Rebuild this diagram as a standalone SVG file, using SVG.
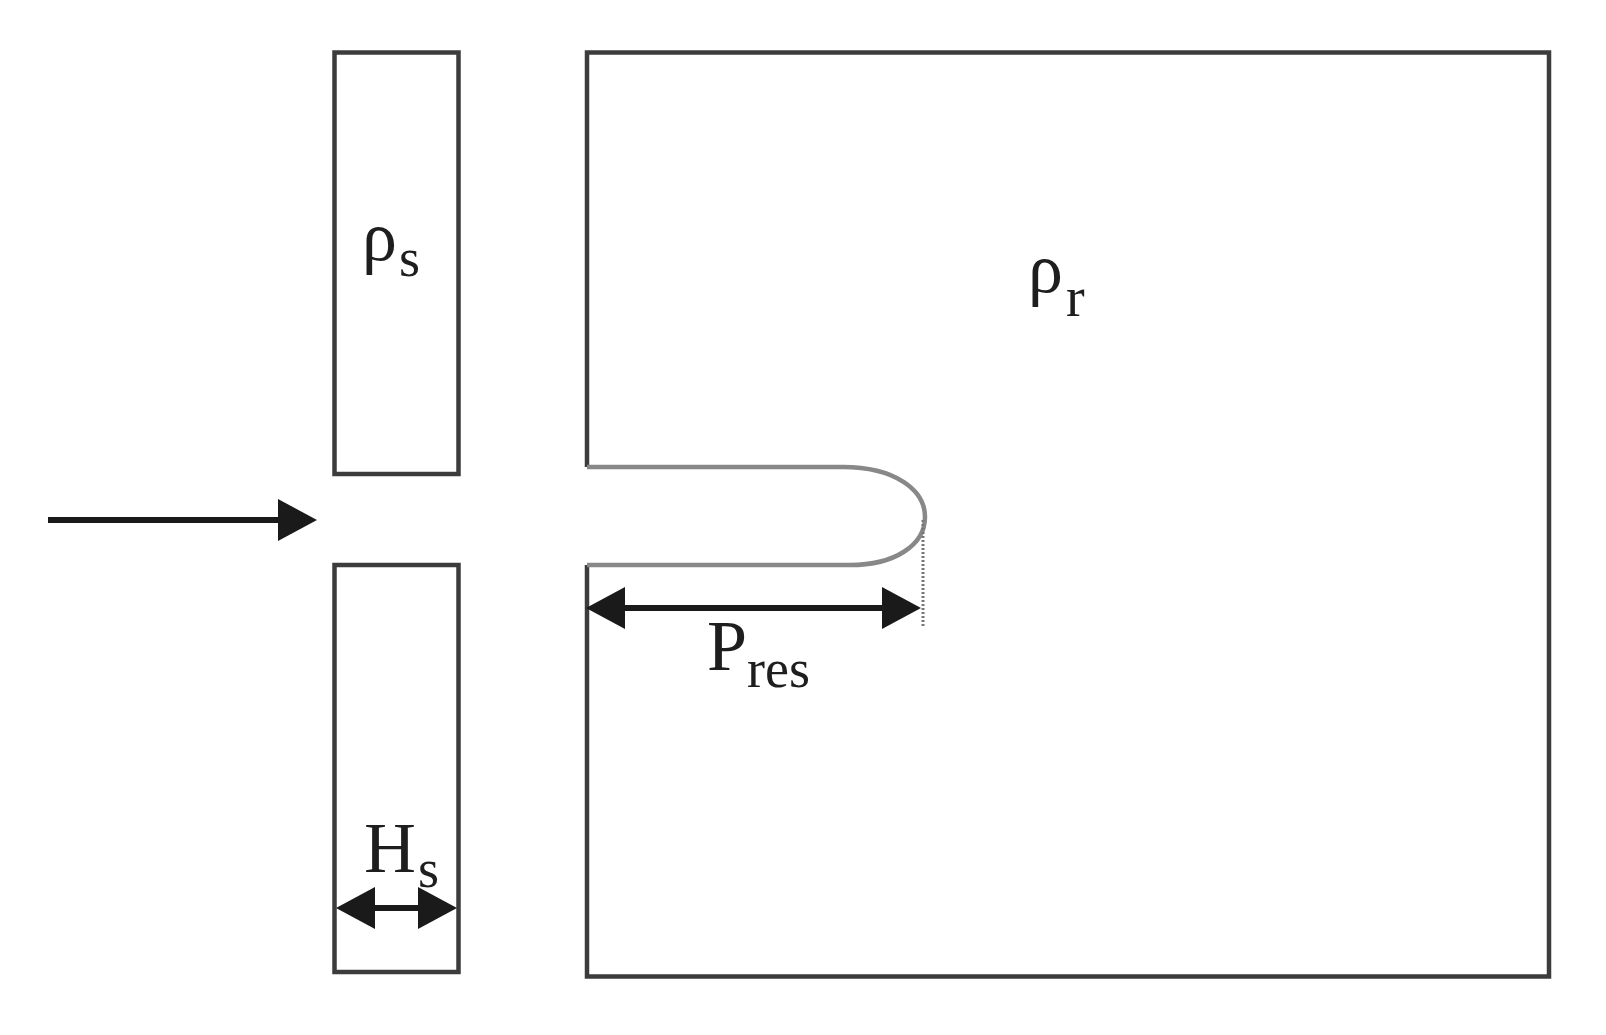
<svg xmlns="http://www.w3.org/2000/svg" width="1606" height="1035" viewBox="0 0 1606 1035">
<style>
.box{fill:none;stroke:#3c3c3c;stroke-width:4.5}
.slot{fill:none;stroke:#888;stroke-width:4.5}
.dot{fill:none;stroke:#777;stroke-width:3;stroke-dasharray:2,2}
.arr{fill:none;stroke:#1a1a1a;stroke-width:6}
.lbl{font-family:"Liberation Serif","Times New Roman",serif;fill:#1e1e1e}
</style>
<defs>
<marker id="head" markerUnits="userSpaceOnUse" markerWidth="40" markerHeight="42" refX="1" refY="21" orient="auto-start-reverse" viewBox="0 0 40 42">
<path d="M0,0 L39,21 L0,42 Z" fill="#1a1a1a"/>
</marker>
</defs>
<rect width="1606" height="1035" fill="#fff"/>
<g id="supply-top">
<rect class="box" x="334.5" y="52.5" width="124" height="421.5"/>
<text class="lbl" x="362" y="260" font-size="70">ρ</text>
<text class="lbl" x="399" y="276" font-size="54">s</text>
</g>
<g id="supply-bottom">
<rect class="box" x="334.5" y="565" width="124" height="407"/>
<text class="lbl" x="364" y="872" font-size="72">H</text>
<text class="lbl" x="418" y="887" font-size="54">s</text>
</g>
<g id="reservoir">
<path class="box" d="M587,467 V52.5 H1549 V976.5 H587 V565"/>
<path class="slot" d="M587,467 H843 C895,467 925,490 925,517 C925,545 895,565 850,565 H587"/>
<path class="dot" d="M923,520 V628"/>
<text class="lbl" x="1028" y="292" font-size="70">ρ</text>
<text class="lbl" x="1066" y="316" font-size="56">r</text>
<text class="lbl" x="707" y="670" font-size="72">P</text>
<text class="lbl" x="747" y="687" font-size="54">res</text>
</g>
<g id="connectors">
<line class="arr" x1="48" y1="520" x2="279" y2="520" marker-end="url(#head)"/>
<line class="arr" x1="624" y1="608" x2="883" y2="608" marker-start="url(#head)" marker-end="url(#head)"/>
<line class="arr" x1="374" y1="908" x2="419" y2="908" marker-start="url(#head)" marker-end="url(#head)"/>
</g>
</svg>
